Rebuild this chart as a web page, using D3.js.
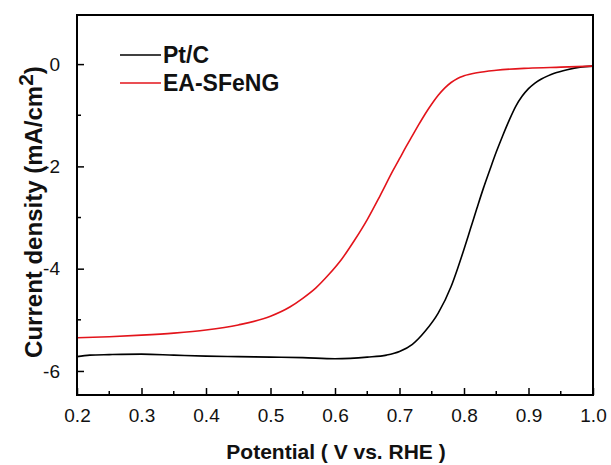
<!DOCTYPE html>
<html>
<head>
<meta charset="utf-8">
<script src="https://cdn.jsdelivr.net/npm/d3@7"></script>
<style>
  body { margin: 0; background: #fff; }
  svg { display: block; font-family: "Liberation Sans", Arial, sans-serif; }
</style>
</head>
<body>
<div id="chart"></div>
<script>
// LSV curves (potential in V vs RHE, current in mA/cm2)
const ptcPotential = [0.20, 0.22, 0.25, 0.30, 0.35, 0.40, 0.45, 0.50, 0.55, 0.60, 0.65, 0.68, 0.70, 0.72, 0.74, 0.76, 0.78, 0.79, 0.80, 0.81, 0.82, 0.83, 0.84, 0.85, 0.86, 0.87, 0.88, 0.89, 0.90, 0.91, 0.92, 0.93, 0.94, 0.96, 0.98, 1.00];
const ptcCurrent = [-5.72, -5.69, -5.68, -5.67, -5.69, -5.71, -5.72, -5.73, -5.74, -5.76, -5.73, -5.69, -5.62, -5.48, -5.22, -4.87, -4.35, -4.00, -3.62, -3.22, -2.82, -2.43, -2.07, -1.72, -1.40, -1.10, -0.83, -0.63, -0.48, -0.37, -0.29, -0.23, -0.18, -0.11, -0.06, -0.04];

const eaPotential = [0.20, 0.25, 0.30, 0.35, 0.40, 0.45, 0.50, 0.53, 0.55, 0.57, 0.59, 0.61, 0.63, 0.65, 0.67, 0.69, 0.70, 0.71, 0.72, 0.73, 0.74, 0.75, 0.76, 0.77, 0.78, 0.79, 0.80, 0.82, 0.85, 0.90, 0.95, 1.00];
const eaCurrent = [-5.35, -5.33, -5.30, -5.26, -5.20, -5.10, -4.93, -4.75, -4.58, -4.38, -4.12, -3.82, -3.45, -3.04, -2.57, -2.08, -1.85, -1.62, -1.40, -1.18, -0.97, -0.78, -0.61, -0.47, -0.36, -0.28, -0.23, -0.17, -0.12, -0.08, -0.06, -0.04];

const seriesNames = ["Pt/C", "EA-SFeNG"];
const xTicks = [0.2, 0.3, 0.4, 0.5, 0.6, 0.7, 0.8, 0.9, 1.0];
const xMinor = [0.25, 0.35, 0.45, 0.55, 0.65, 0.75, 0.85, 0.95];
const yTicks = [0, -2, -4, -6];
const yMinor = [-1, -3, -5];

const W = 611, H = 465;
const m = {left: 77, right: 593, top: 15, bottom: 395};

const svg = d3.select("#chart").append("svg")
    .attr("width", W).attr("height", H);

const x = d3.scaleLinear().domain([0.2, 1.0]).range([m.left, m.right]);
const y = d3.scaleLinear().domain([-6.47, 0.96]).range([m.bottom, m.top]);

const series = [
    {name: seriesNames[0], color: "#000000", data: d3.zip(ptcPotential, ptcCurrent)},
    {name: seriesNames[1], color: "#e3141b", data: d3.zip(eaPotential, eaCurrent)}
];

const line = d3.line()
    .x(d => x(d[0]))
    .y(d => y(d[1]))
    .curve(d3.curveMonotoneX);

// curves
svg.append("g").selectAll("path")
    .data(series)
    .join("path")
    .attr("fill", "none")
    .attr("stroke", d => d.color)
    .attr("stroke-width", 1.6)
    .attr("d", d => line(d.data));

// x axis, ticks pointing inward
const xAxis = svg.append("g").attr("transform", `translate(0,${m.bottom})`);
xAxis.call(d3.axisBottom(x).tickValues(xTicks).tickFormat(d3.format(".1f")).tickSizeInner(-7).tickSizeOuter(0).tickPadding(14));
svg.append("g").selectAll("line")
    .data(xMinor)
    .join("line")
    .attr("x1", d => x(d)).attr("x2", d => x(d))
    .attr("y1", m.bottom).attr("y2", m.bottom - 4)
    .attr("stroke", "#000").attr("stroke-width", 1.5);

// y axis
const yAxis = svg.append("g").attr("transform", `translate(${m.left},0)`);
yAxis.call(d3.axisLeft(y).tickValues(yTicks).tickFormat(d3.format("d")).tickSizeInner(-7).tickSizeOuter(0).tickPadding(17));
svg.append("g").selectAll("line")
    .data(yMinor)
    .join("line")
    .attr("x1", m.left).attr("x2", m.left + 4)
    .attr("y1", d => y(d)).attr("y2", d => y(d))
    .attr("stroke", "#000").attr("stroke-width", 1.5);

[xAxis, yAxis].forEach(g => {
    g.select(".domain").remove();
    g.selectAll(".tick line").attr("stroke", "#000").attr("stroke-width", 1.5);
    g.selectAll(".tick text")
        .attr("fill", "#111")
        .style("font-size", "19px")
        .style("font-family", "'Liberation Sans', Arial, sans-serif");
});
yAxis.selectAll(".tick text").text(d => d === 0 ? "0" : "-" + Math.abs(d));

// frame
svg.append("rect")
    .attr("x", m.left).attr("y", m.top)
    .attr("width", m.right - m.left).attr("height", m.bottom - m.top)
    .attr("fill", "none").attr("stroke", "#000").attr("stroke-width", 2);

// axis titles
svg.append("text")
    .attr("x", 336).attr("y", 459)
    .attr("text-anchor", "middle")
    .style("font-size", "21px").style("font-weight", "bold").attr("fill", "#111")
    .text("Potential ( V vs. RHE )");

const yTitle = svg.append("text")
    .attr("transform", "translate(42,212) rotate(-90)")
    .attr("text-anchor", "middle")
    .style("font-size", "24px").style("font-weight", "bold").attr("fill", "#111");
yTitle.append("tspan").text("Current density (mA/cm");
yTitle.append("tspan").attr("dy", -9).style("font-size", "21px").text("2");
yTitle.append("tspan").attr("dy", 9).text(")");

// legend
const legend = svg.append("g").selectAll("g")
    .data(series)
    .join("g")
    .attr("transform", (d, i) => `translate(120,${55 + i * 28})`);
legend.append("line")
    .attr("x1", 0).attr("x2", 41)
    .attr("stroke", d => d.color).attr("stroke-width", 1.6);
legend.append("text")
    .attr("x", 43).attr("y", 8)
    .style("font-size", "23px").style("font-weight", "bold").attr("fill", "#111")
    .text(d => d.name);
</script>
</body>
</html>
